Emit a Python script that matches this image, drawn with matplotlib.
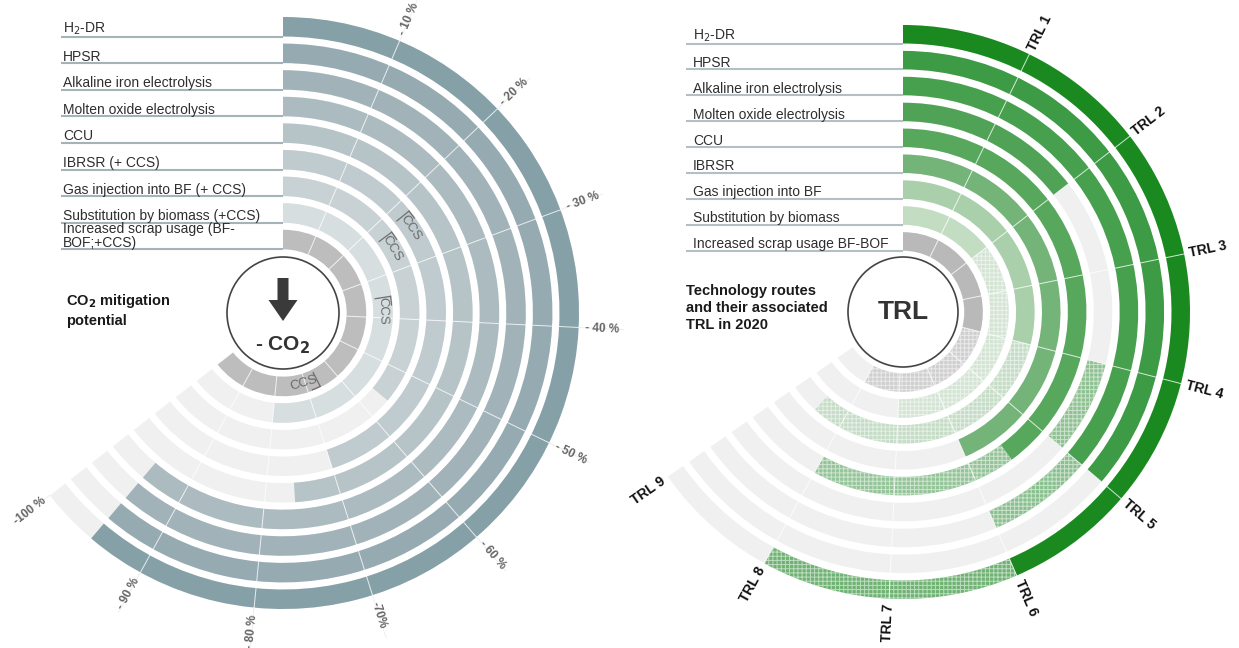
import numpy as np
import matplotlib.pyplot as plt
from matplotlib.patches import FancyArrow

plt.rcParams['font.family'] = ['Liberation Sans', 'DejaVu Sans']
plt.rcParams['hatch.linewidth'] = 0.7

W, H = 1239, 648

# ---- CO2 mitigation potential (left wheel) ----
co2_routes = ["H$_2$-DR", "HPSR", "Alkaline iron electrolysis", "Molten oxide electrolysis",
              "CCU", "IBRSR (+ CCS)", "Gas injection into BF (+ CCS)",
              "Substitution by biomass (+CCS)", "Increased scrap usage (BF-\nBOF;+CCS)"]
co2_reduction = [95, 95, 95, 95, 76, 70, 56, 80, 100]     # % reduction reached
co2_ccs_from = [None, None, None, None, None, 22, 23, 35, 66]  # where the CCS part starts
co2_colors = ["#86a0a8", "#95aab1", "#a1b3b9", "#abbbc0", "#b6c4c8",
              "#bfcbcf", "#c8d2d5", "#d6dee0", "#bdbdbd"]
co2_ticks = [10, 20, 30, 40, 50, 60, 70, 80, 90, 100]
co2_tick_labels = ["- 10 %", "- 20 %", "- 30 %", "- 40 %", "- 50 %",
                   "- 60 %", "-70%", "- 80 %", "- 90 %", "-100 %"]

# ---- TRL in 2020 (right wheel) ----
trl_routes = ["H$_2$-DR", "HPSR", "Alkaline iron electrolysis", "Molten oxide electrolysis",
              "CCU", "IBRSR", "Gas injection into BF", "Substitution by biomass",
              "Increased scrap usage BF-BOF"]
trl_solid = [6, 5, 5, 2, 5.5, 6, 4, 2, 4]          # reached TRL
trl_range_from = [6, 5, 5, 4, 5.5, 6, 4, 2, 4]     # hatched TRL range
trl_range_to = [8, 5, 6, 5, 8, 6, 8.5, 7, 8]
trl_colors = ["#1a8a20", "#3d9a45", "#47a04e", "#4fa256", "#57a75d",
              "#74b478", "#a9d0aa", "#c2ddc2", "#b9b9b9"]
trl_levels = [1, 2, 3, 4, 5, 6, 7, 8, 9]
trl_tick_labels = ["TRL %d" % t for t in trl_levels]

LIGHT = "#f0f0f0"

fig = plt.figure(figsize=(W / 100, H / 100), dpi=100)


def wheel(cx, cy, r_out, deg_full, vmax):
    ax = fig.add_axes([(cx - r_out - 60) / W, 1 - (cy + r_out + 60) / H,
                       2 * (r_out + 60) / W, 2 * (r_out + 60) / H], projection='polar')
    ax.set_theta_zero_location('N')
    ax.set_theta_direction(-1)
    ax.set_ylim(0, r_out + 60)
    ax.axis('off')
    to_theta = lambda v: np.deg2rad(np.asarray(v, dtype=float) * deg_full / vmax)
    return ax, to_theta


def radial_text(ax, theta, r, s, **kw):
    deg = np.rad2deg(theta)
    rot = 90 - deg
    ha = 'left'
    if rot < -90:
        rot += 180
        ha = 'right'
    ax.text(theta, r, s, rotation=rot, rotation_mode='anchor', ha=ha, va='center', **kw)


# overlay in pixel coordinates for labels and centre discs
ov = fig.add_axes([0, 0, 1, 1], zorder=5)
ov.set_xlim(0, W)
ov.set_ylim(H, 0)
ov.axis('off')

# ---------------- left wheel ----------------
cx, cy, R, step, bw = 283, 313, 296, 26.6, 19.5
ax, th = wheel(cx, cy, R, 232, 100)
full = th(100)
for i, (val, col) in enumerate(zip(co2_reduction, co2_colors)):
    r_out = R - i * step
    r_in = r_out - bw
    ax.bar(0, bw, width=full, bottom=r_in, align='edge', color=LIGHT, linewidth=0)
    ax.bar(0, bw, width=th(val), bottom=r_in, align='edge', color=col, linewidth=0)
    ov.plot([61, cx], [cy - r_in, cy - r_in], color="#a3b3b8", lw=1.5, solid_capstyle='butt')
    ov.text(63, cy - r_in + 0.5, co2_routes[i], fontsize=10, color="#2e2e2e",
            ha='left', va='bottom', linespacing=1.0)
    ccs = co2_ccs_from[i]
    if ccs is not None:
        t0 = th(ccs)
        ax.plot([t0, t0], [r_in + 3, r_out - 1], color="#6f6f6f", lw=0.9)
        ax.plot(np.linspace(t0, t0 + np.deg2rad(5 * 100 / r_out), 10), [r_out - 1] * 10,
                color="#6f6f6f", lw=0.9)
        tc = t0 + np.deg2rad(8.5 * 100 / r_out)
        rot = -np.rad2deg(tc)
        if rot < -90:
            rot += 180
        ax.text(tc, r_in + bw / 2, "CCS", rotation=rot, rotation_mode='anchor',
                ha='center', va='center', fontsize=9.5, color="#6a6a6a")

r_in_min = R - 8 * step - bw
for t, lab in zip(co2_ticks, co2_tick_labels):
    a = th(t)
    ax.plot([a, a], [r_in_min, R], color="white", lw=0.7, alpha=0.8)
    ax.plot([a, a], [R, R + 45], color="#eeeeee", lw=0.7)
    radial_text(ax, a, R + 7, lab, fontsize=8.5, color="#666666", fontweight='bold')

ov.add_patch(plt.Circle((cx, cy), 56, facecolor='white', edgecolor="#444444", lw=1.2))
ov.add_patch(FancyArrow(cx, cy - 35, 0, 43, width=11, head_width=29, head_length=21,
                        length_includes_head=True, color="#3a3a3a", lw=0))
ov.text(cx, cy + 32, "- CO$_\\mathbf{2}$", fontsize=15, fontweight='bold', color="#333333",
        ha='center', va='center')
ov.text(66, cy - 3, "CO$_\\mathbf{2}$ mitigation\npotential", fontsize=10.5, fontweight='bold',
        color="#1a1a1a", ha='left', va='center', linespacing=1.3)

# ---------------- right wheel ----------------
cx, cy, R, step, bw = 903, 312, 287, 25.9, 18.5
ax, th = wheel(cx, cy, R, 235, 9)
full = th(9)
for i, col in enumerate(trl_colors):
    r_out = R - i * step
    r_in = r_out - bw
    ax.bar(0, bw, width=full, bottom=r_in, align='edge', color=LIGHT, linewidth=0)
    lo, hi = trl_range_from[i], trl_range_to[i]
    if hi > lo:
        ax.bar(th(lo), bw, width=th(hi - lo), bottom=r_in, align='edge',
               color=col, alpha=0.6, linewidth=0)
        ax.bar(th(lo), bw, width=th(hi - lo), bottom=r_in, align='edge',
               facecolor='none', edgecolor='white', hatch='++++', linewidth=0, alpha=0.55)
    ax.bar(0, bw, width=th(trl_solid[i]), bottom=r_in, align='edge', color=col, linewidth=0)
    ov.plot([686, cx], [cy - r_in, cy - r_in], color="#b3bfc3", lw=1.5, solid_capstyle='butt')
    ov.text(693, cy - r_in + 0.5, trl_routes[i], fontsize=10, color="#2e2e2e",
            ha='left', va='bottom')

r_in_min = R - 8 * step - bw
for t, lab in zip(trl_levels, trl_tick_labels):
    a = th(t)
    if t < 9:
        ax.plot([a, a], [r_in_min, R], color="white", lw=0.7, alpha=0.8)
    radial_text(ax, a, R + 5, lab, fontsize=10, color="#111111", fontweight='bold')

ov.add_patch(plt.Circle((cx, cy), 55, facecolor='white', edgecolor="#444444", lw=1.2))
ov.text(cx, cy, "TRL", fontsize=19, fontweight='bold', color="#333333", ha='center', va='center')
ov.text(686, cy - 4, "Technology routes\nand their associated\nTRL in 2020", fontsize=10.5,
        fontweight='bold', color="#1a1a1a", ha='left', va='center', linespacing=1.3)

fig.savefig("out.png", dpi=100)
